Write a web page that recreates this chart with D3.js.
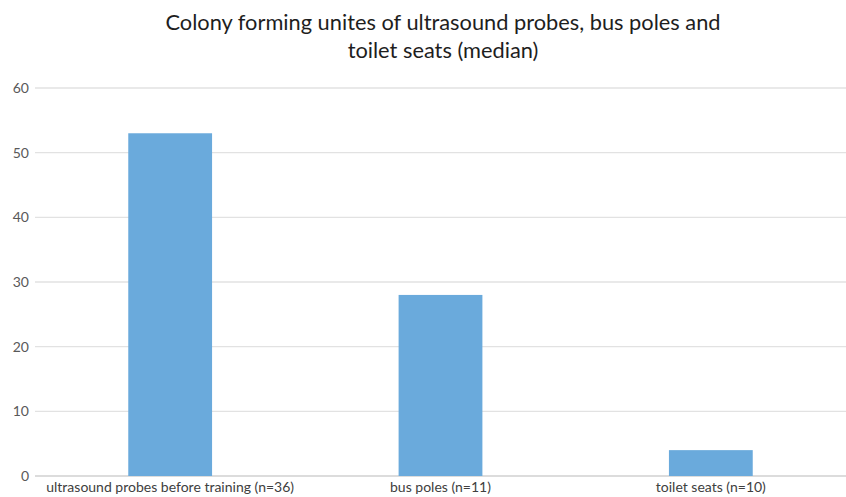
<!DOCTYPE html>
<html>
<head>
<meta charset="utf-8">
<script src="https://cdn.jsdelivr.net/npm/d3@7"></script>
<style>
  body { margin: 0; background: #fff; }
  text { font-family: Lato, "Open Sans", sans-serif; }
</style>
</head>
<body>
<svg id="chart"></svg>
<script>
const categories = [
  "ultrasound probes before training (n=36)",
  "bus poles (n=11)",
  "toilet seats (n=10)"
];
const values = [53, 28, 4];
const yTicks = [0, 10, 20, 30, 40, 50, 60];
const titleLines = [
  "Colony forming unites of ultrasound probes, bus poles and",
  "toilet seats (median)"
];

const W = 846, H = 497;
const margin = { top: 88, right: 0, bottom: 21, left: 35 };
const width = W - margin.left - margin.right;
const height = H - margin.top - margin.bottom;

const svg = d3.select("#chart").attr("width", W).attr("height", H);

svg.selectAll("text.title")
  .data(titleLines)
  .join("text")
  .attr("class", "title")
  .attr("x", 443)
  .attr("y", (d, i) => 30 + i * 28)
  .attr("text-anchor", "middle")
  .attr("font-size", 21.8)
  .attr("fill", "#1e1e1e")
  .text((d) => d);

const g = svg.append("g").attr("transform", `translate(${margin.left},${margin.top})`);

const xscale = d3.scaleBand().domain(categories).range([0, width]).paddingInner(0.69).paddingOuter(0.345);
const yscale = d3.scaleLinear().domain([0, 60]).range([height, 0]);

g.selectAll("line.grid")
  .data(yTicks)
  .join("line")
  .attr("class", "grid")
  .attr("x1", 0)
  .attr("x2", width)
  .attr("y1", (d) => yscale(d))
  .attr("y2", (d) => yscale(d))
  .attr("stroke", (d) => (d === 0 ? "#d0d0d0" : "#e2e2e2"))
  .attr("stroke-width", 1.3);

const yaxis = d3.axisLeft(yscale).tickValues(yTicks).tickSize(0).tickPadding(6);
g.append("g").call(yaxis)
  .call((a) => a.select(".domain").remove())
  .call((a) => a.selectAll("text").attr("font-size", 14).attr("fill", "#595959").style("font-family", "Lato, sans-serif"));

g.selectAll("rect")
  .data(values)
  .join("rect")
  .attr("x", (d, i) => xscale(categories[i]))
  .attr("width", xscale.bandwidth())
  .attr("y", (d) => yscale(d))
  .attr("height", (d) => yscale(0) - yscale(d))
  .attr("fill", "#6aaadc");

const xaxis = d3.axisBottom(xscale).tickSize(0).tickPadding(6);
g.append("g").attr("transform", `translate(0,${height})`).call(xaxis)
  .call((a) => a.select(".domain").remove())
  .call((a) => a.selectAll("text").attr("font-size", 14).attr("fill", "#404040").style("font-family", "Lato, sans-serif"));
</script>
</body>
</html>
